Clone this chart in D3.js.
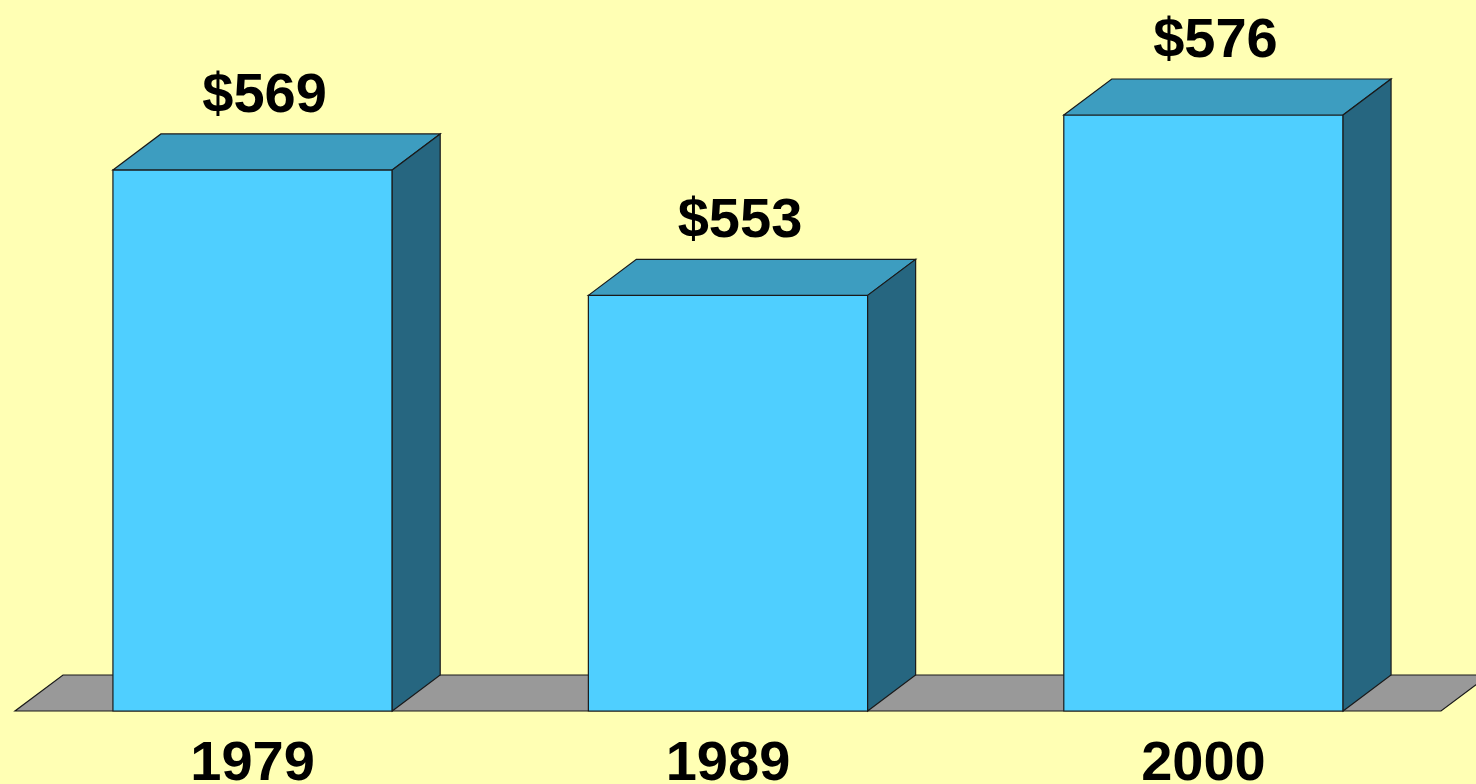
<!DOCTYPE html>
<html>
<head>
<meta charset="utf-8">
<script src="https://cdn.jsdelivr.net/npm/d3@7"></script>
<style>
  html, body { margin: 0; padding: 0; background: #FFFFB4; }
  svg { display: block; }
  text { font-family: "Liberation Sans", Arial, sans-serif; font-weight: bold; fill: #000; }
</style>
</head>
<body>
<svg id="chart" width="1476" height="784"></svg>
<script>
// Average values per year
const years = ["1979", "1989", "2000"];
const values = [569, 553, 576];
const valueLabels = ["$569", "$553", "$576"];

const W = 1476, H = 784;
const baseY = 711;          // front edge of the floor
const depthX = 48, depthY = 36; // oblique 3D offset

const svg = d3.select("#chart");
svg.append("rect").attr("width", W).attr("height", H).attr("fill", "#FFFFB4");

const x = d3.scaleBand()
  .domain(years)
  .range([15, 1441])
  .paddingInner(0.4126)
  .paddingOuter(0.206);

const y = d3.scaleLinear()
  .domain([500, 600])
  .range([baseY, baseY - 784.2]);

const stroke = "#1a1a1a";

// Floor
const x0 = x.range()[0], x1 = x.range()[1];
svg.append("path")
  .attr("d", d3.line()([[x0, baseY], [x1, baseY], [x1 + depthX, baseY - depthY], [x0 + depthX, baseY - depthY]]) + "Z")
  .attr("fill", "#999999")
  .attr("stroke", stroke)
  .attr("stroke-width", 1.2);

const data = years.map((yr, i) => ({ year: yr, value: values[i], label: valueLabels[i] }));

const bars = svg.append("g").selectAll("g").data(data).join("g");

// Front face
bars.append("path")
  .attr("d", d => {
    const l = x(d.year), r = l + x.bandwidth(), t = y(d.value);
    return d3.line()([[l, baseY], [l, t], [r, t], [r, baseY]]) + "Z";
  })
  .attr("fill", "#4FCFFF")
  .attr("stroke", stroke)
  .attr("stroke-width", 1.2);

// Top face
bars.append("path")
  .attr("d", d => {
    const l = x(d.year), r = l + x.bandwidth(), t = y(d.value);
    return d3.line()([[l, t], [l + depthX, t - depthY], [r + depthX, t - depthY], [r, t]]) + "Z";
  })
  .attr("fill", "#3D9DC0")
  .attr("stroke", stroke)
  .attr("stroke-width", 1.2);

// Side face
bars.append("path")
  .attr("d", d => {
    const r = x(d.year) + x.bandwidth(), t = y(d.value);
    return d3.line()([[r, t], [r + depthX, t - depthY], [r + depthX, baseY - depthY], [r, baseY]]) + "Z";
  })
  .attr("fill", "#266680")
  .attr("stroke", stroke)
  .attr("stroke-width", 1.2);

// Value labels above bars
bars.append("text")
  .attr("x", d => x(d.year) + x.bandwidth() / 2 + 12)
  .attr("y", d => y(d.value) - 58)
  .attr("text-anchor", "middle")
  .attr("font-size", 56)
  .text(d => d.label);

// Year labels below the floor
bars.append("text")
  .attr("x", d => x(d.year) + x.bandwidth() / 2)
  .attr("y", 780)
  .attr("text-anchor", "middle")
  .attr("font-size", 56)
  .text(d => d.year);
</script>
</body>
</html>
